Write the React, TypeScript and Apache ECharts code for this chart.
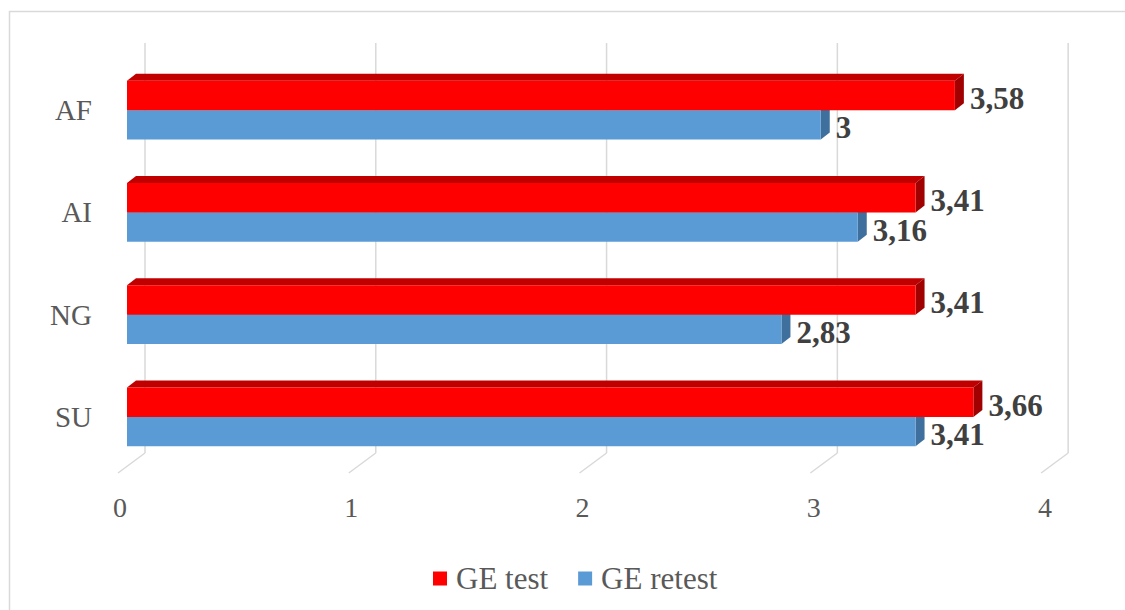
import React, { useEffect, useRef } from "react";
import * as echarts from "echarts";

const categories = ["AF", "AI", "NG", "SU"];
const geTest = [3.58, 3.41, 3.41, 3.66];
const geRetest = [3, 3.16, 2.83, 3.41];
const tickValues = [0, 1, 2, 3, 4];

const FONT = "'Liberation Serif', 'Times New Roman', serif";
const DX = 9;
const DY = -7;

function fmt(v: number) {
  return String(v).replace(".", ",");
}

function makeBarRenderer(upper: boolean, front: string, top: string, side: string) {
  return (params: any, api: any) => {
    const cat = api.value(0);
    const v = api.value(1);
    const p0 = api.coord([0, cat]);
    const p1 = api.coord([v, cat]);
    const band = api.size([0, 1])[1];
    const h = band * 0.2885;
    const cy = p1[1];
    const yTop = upper ? cy - h : cy;
    const yBot = upper ? cy : cy + h;
    const x0 = p0[0];
    const x1 = p1[0];
    return {
      type: "group",
      children: [
        {
          type: "polygon",
          shape: { points: [[x0, yTop], [x1, yTop], [x1 + DX, yTop + DY], [x0 + DX, yTop + DY]] },
          style: { fill: top },
        },
        {
          type: "polygon",
          shape: { points: [[x1, yTop], [x1 + DX, yTop + DY], [x1 + DX, yBot + DY], [x1, yBot]] },
          style: { fill: side },
        },
        {
          type: "rect",
          shape: { x: x0, y: yTop, width: x1 - x0, height: h },
          style: { fill: front },
        },
        {
          type: "text",
          x: x1 + 15,
          y: (yTop + yBot) / 2 + 3,
          style: {
            text: fmt(v),
            fill: "#404040",
            font: `bold 31px ${FONT}`,
            align: "left",
            verticalAlign: "middle",
          },
        },
      ],
    };
  };
}

export default function App() {
  const ref = useRef<HTMLDivElement>(null);

  useEffect(() => {
    if (!ref.current) return;
    const chart = echarts.init(ref.current, undefined, { renderer: "svg" });

    const gridRenderer = (params: any, api: any) => {
      const v = api.value(0);
      const cs = params.coordSys;
      const x0 = api.coord([0, 0])[0];
      const x = api.coord([v, 0])[0];
      const bx = x + 18 - (x - x0) * 0.002;
      const yBack = cs.y + cs.height - 15;
      return {
        type: "group",
        children: [
          {
            type: "line",
            shape: { x1: bx, y1: cs.y - 16, x2: bx, y2: yBack },
            style: { stroke: "#d9d9d9", lineWidth: 1.5 },
          },
          {
            type: "line",
            shape: { x1: bx, y1: yBack, x2: bx - 27, y2: yBack + 20 },
            style: { stroke: "#d9d9d9", lineWidth: 1.5 },
          },
        ],
      };
    };

    chart.setOption({
      animation: false,
      backgroundColor: "#ffffff",
      graphic: [
        {
          type: "rect",
          shape: { x: 9.5, y: 11.5, width: 1200, height: 700 },
          style: { fill: "none", stroke: "#d9d9d9", lineWidth: 1.5 },
          silent: true,
        },
      ],
      grid: { left: 127, right: 73, top: 59, bottom: 142, containLabel: false },
      legend: {
        data: ["GE test", "GE retest"],
        left: 428,
        top: 558,
        icon: "rect",
        itemWidth: 14,
        itemHeight: 14,
        itemGap: 30,
        textStyle: { fontSize: 31, color: "#595959", fontFamily: FONT, padding: [0, 0, 0, 4] },
      },
      xAxis: {
        type: "value",
        min: 0,
        max: 4,
        interval: 1,
        splitLine: { show: false },
        axisLine: { show: false },
        axisTick: { show: false },
        axisLabel: {
          margin: 25,
          fontSize: 28,
          color: "#595959",
          fontFamily: FONT,
          padding: [0, 14, 0, 0],
        },
      },
      yAxis: {
        type: "category",
        inverse: true,
        data: categories,
        axisLine: { show: false },
        axisTick: { show: false },
        splitLine: { show: false },
        axisLabel: {
          margin: 35,
          fontSize: 29,
          color: "#595959",
          fontFamily: FONT,
          padding: [10, 0, 0, 0],
        },
      },
      series: [
        {
          name: "grid",
          type: "custom",
          silent: true,
          z: 1,
          renderItem: gridRenderer,
          encode: { x: 0, y: 1 },
          data: tickValues.map((t) => [t, 0]),
        },
        {
          name: "GE test",
          type: "custom",
          z: 3,
          itemStyle: { color: "#ff0000" },
          renderItem: makeBarRenderer(true, "#ff0000", "#c00000", "#a00000"),
          encode: { x: 1, y: 0 },
          data: geTest.map((v, i) => [i, v]),
        },
        {
          name: "GE retest",
          type: "custom",
          z: 2,
          itemStyle: { color: "#5b9bd5" },
          renderItem: makeBarRenderer(false, "#5b9bd5", "#4a85bd", "#3f6f9c"),
          encode: { x: 1, y: 0 },
          data: geRetest.map((v, i) => [i, v]),
        },
      ],
    });

    return () => chart.dispose();
  }, []);

  return (
    <div
      ref={ref}
      style={{ position: "fixed", left: 0, top: 0, width: 1125, height: 610 }}
    />
  );
}
